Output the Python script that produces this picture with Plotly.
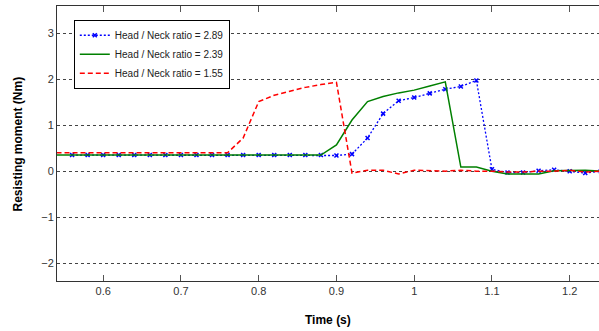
import plotly.graph_objects as go

t_blue = [0.56, 0.58, 0.60, 0.62, 0.64, 0.66, 0.68, 0.70, 0.72, 0.74, 0.76, 0.78, 0.80, 0.82, 0.84,
          0.86, 0.88, 0.90, 0.92, 0.94, 0.96, 0.98, 1.00, 1.02, 1.04, 1.06, 1.08, 1.10, 1.12, 1.14,
          1.16, 1.18, 1.20, 1.22, 1.24]
m_blue = [0.35, 0.35, 0.35, 0.35, 0.35, 0.35, 0.35, 0.35, 0.35, 0.35, 0.35, 0.35, 0.35, 0.35, 0.35,
          0.35, 0.35, 0.34, 0.37, 0.72, 1.25, 1.53, 1.60, 1.69, 1.78, 1.84, 1.97, 0.04, -0.03, -0.03,
          0.01, 0.03, 0.00, -0.04, 0.00]

t_green = [0.54, 0.56, 0.58, 0.60, 0.62, 0.64, 0.66, 0.68, 0.70, 0.72, 0.74, 0.76, 0.78, 0.80, 0.82,
           0.84, 0.86, 0.88, 0.90, 0.92, 0.94, 0.96, 0.98, 1.00, 1.02, 1.04, 1.06, 1.08, 1.10, 1.12,
           1.14, 1.16, 1.18, 1.20, 1.22, 1.24]
m_green = [0.35, 0.35, 0.35, 0.35, 0.35, 0.35, 0.35, 0.35, 0.35, 0.35, 0.35, 0.35, 0.35, 0.35, 0.35,
           0.35, 0.35, 0.35, 0.57, 1.11, 1.51, 1.62, 1.70, 1.76, 1.85, 1.94, 0.09, 0.09, 0.00, -0.06,
           -0.06, -0.06, 0.01, 0.02, 0.02, 0.00]

t_red = [0.54, 0.56, 0.58, 0.60, 0.62, 0.64, 0.66, 0.68, 0.70, 0.72, 0.74, 0.76, 0.78, 0.80, 0.82,
         0.84, 0.86, 0.88, 0.90, 0.92, 0.94, 0.96, 0.98, 1.00, 1.02, 1.04, 1.06, 1.08, 1.10, 1.12,
         1.14, 1.16, 1.18, 1.20, 1.22, 1.24]
m_red = [0.40, 0.40, 0.40, 0.40, 0.40, 0.40, 0.40, 0.40, 0.40, 0.40, 0.40, 0.40, 0.72, 1.51, 1.65,
         1.73, 1.82, 1.88, 1.93, -0.04, 0.02, 0.02, -0.06, 0.02, 0.01, 0.00, 0.02, 0.00, 0.00, -0.02,
         -0.02, 0.00, 0.00, 0.02, -0.02, 0.00]

y_ticks = [-2, -1, 0, 1, 2, 3]
x_ticks = [0.6, 0.7, 0.8, 0.9, 1.0, 1.1, 1.2]
x_tick_labels = ["0.6", "0.7", "0.8", "0.9", "1", "1.1", "1.2"]

fig = go.Figure()
fig.add_trace(go.Scatter(x=t_blue, y=m_blue, mode="lines+markers",
                         name="Head / Neck ratio = 2.89",
                         line=dict(color="#0000ff", width=1.3, dash="2px,2px"),
                         marker=dict(symbol="x-thin", size=4, color="#0000ff",
                                     line=dict(color="#0000ff", width=1.5))))
fig.add_trace(go.Scatter(x=t_green, y=m_green, mode="lines",
                         name="Head / Neck ratio = 2.39",
                         line=dict(color="#008000", width=1.5)))
fig.add_trace(go.Scatter(x=t_red, y=m_red, mode="lines",
                         name="Head / Neck ratio = 1.55",
                         line=dict(color="#ff0000", width=1.5, dash="5px,3px")))

fig.update_layout(
    width=599, height=331,
    margin=dict(l=57, r=0, t=6, b=50, autoexpand=False),
    plot_bgcolor="white", paper_bgcolor="white",
    font=dict(family="Arial, Liberation Sans, sans-serif", size=11, color="#333333"),
    showlegend=True,
    legend=dict(x=0.031, y=0.95, xanchor="left", yanchor="top",
                bgcolor="white", bordercolor="black", borderwidth=1,
                font=dict(size=10, color="#222222"),
                tracegroupgap=0, itemwidth=30),
    xaxis=dict(range=[0.5406, 1.2377], tickmode="array", tickvals=x_ticks, ticktext=x_tick_labels,
               showgrid=False, zeroline=False, showline=True, linecolor="#333333", linewidth=1,
               mirror="ticks", ticks="inside", ticklen=6, tickcolor="#555555", automargin=False),
    yaxis=dict(range=[-2.385, 3.587], tickmode="array", tickvals=y_ticks,
               showgrid=True, gridcolor="#444444", griddash="dot", gridwidth=1,
               zeroline=False, showline=True, linecolor="#333333", linewidth=1,
               ticks="", automargin=False),
    annotations=[
        dict(text="<b>Time (s)</b>", x=0.5, y=-0.14, xref="paper", yref="paper",
             xanchor="center", yanchor="middle", showarrow=False,
             font=dict(size=12, color="black")),
        dict(text="<b>Resisting moment (Nm)</b>", x=-0.072, y=0.5, xref="paper", yref="paper",
             xanchor="center", yanchor="middle", showarrow=False, textangle=-90,
             font=dict(size=12, color="black")),
    ],
)

fig.write_html("out.html", config={"displayModeBar": False},
               post_script="document.body.style.margin='0';document.body.style.overflow='hidden';")
